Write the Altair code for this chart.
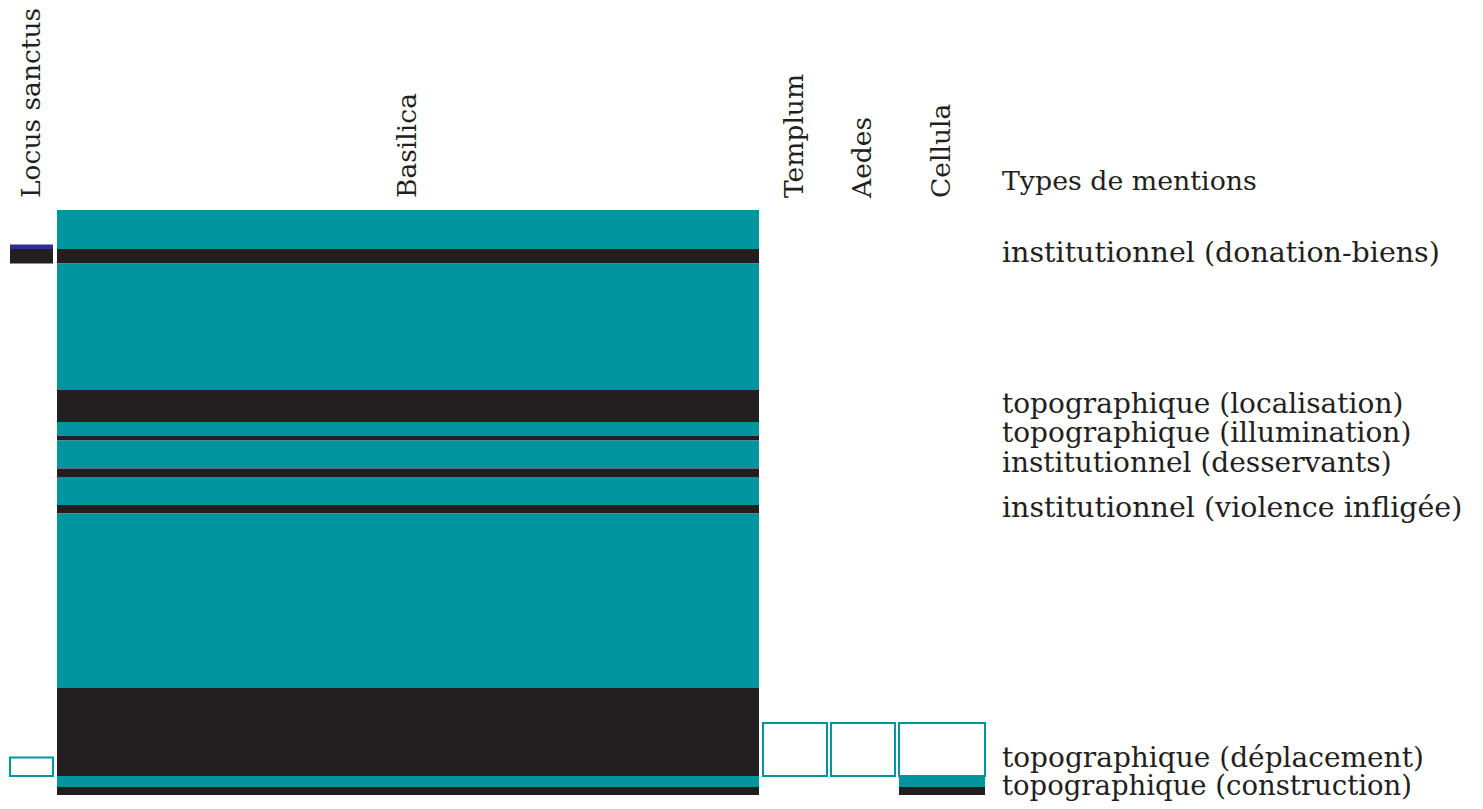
import altair as alt
import pandas as pd

# Columns (lieux de culte) and their relative widths
columns = ["Locus sanctus", "Basilica", "Templum", "Aedes", "Cellula"]
col_widths = [43, 702, 64, 64, 86]
col_gap = 4
col_start = 2  # left offset

# Segments: column, top, bottom (in chart units from top), kind
seg_column = ["Basilica"] * 14 + ["Locus sanctus"] * 3 + ["Templum", "Aedes"] + ["Cellula"] * 3
seg_top = [202, 241, 255.5, 382, 414, 428, 432.5, 460.5, 469, 497, 505.5, 680, 768, 779,
           236.5, 241, 749.5,
           715, 715,
           715, 768, 779]
seg_bottom = [241, 255.5, 382, 414, 428, 432.5, 460.5, 469, 497, 505.5, 680, 768, 779, 787,
              241, 255.5, 768,
              768, 768,
              768, 779, 787]
seg_kind = ["teal", "black", "teal", "black", "teal", "black", "teal", "black", "teal", "black",
            "teal", "black", "teal", "black",
            "blue", "black", "outline",
            "outline", "outline",
            "outline", "teal", "black"]

# Row labels (types de mentions) and their vertical positions
row_labels = ["Types de mentions", "institutionnel (donation-biens)", "topographique (localisation)",
              "topographique (illumination)", "institutionnel (desservants)",
              "institutionnel (violence infligée)", "topographique (déplacement)",
              "topographique (construction)"]
row_label_y = [174, 245, 397, 426, 456, 500, 751, 779]
row_label_size = [26.8, 28.5, 28, 28, 28, 28.5, 28, 27.5]
label_x = 994

W, H = 1467, 793

# column positions
x0 = {}
pos = col_start
for c, w in zip(columns, col_widths):
    x0[c] = (pos, pos + w)
    pos += w + col_gap

seg = pd.DataFrame({"col": seg_column, "top": seg_top, "bottom": seg_bottom, "kind": seg_kind})
seg["x"] = [x0[c][0] for c in seg["col"]]
seg["x2"] = [x0[c][1] for c in seg["col"]]

xs = alt.Scale(domain=[0, W], range=[0, W], nice=False, zero=False)
ys = alt.Scale(domain=[0, H], range=[0, H], nice=False, zero=False)

color_scale = alt.Scale(domain=["teal", "black", "blue"], range=["#00959e", "#231f20", "#2e3192"])

filled = alt.Chart(seg).transform_filter(alt.datum.kind != "outline").mark_rect(stroke=None).encode(
    x=alt.X("x:Q", scale=xs, axis=None),
    x2="x2:Q",
    y=alt.Y("top:Q", scale=ys, axis=None),
    y2="bottom:Q",
    color=alt.Color("kind:N", scale=color_scale, legend=None),
)

outlined = alt.Chart(seg).transform_filter(alt.datum.kind == "outline").mark_rect(
    fill="white", stroke="#00959e", strokeWidth=2
).encode(
    x=alt.X("x:Q", scale=xs, axis=None),
    x2="x2:Q",
    y=alt.Y("top:Q", scale=ys, axis=None),
    y2="bottom:Q",
)

hdr = pd.DataFrame({"col": columns})
hdr["cx"] = [(x0[c][0] + x0[c][1]) / 2 for c in columns]
hdr["cy"] = 190

headers = alt.Chart(hdr).mark_text(
    angle=270, align="left", baseline="middle", font="DejaVu Serif", fontSize=26.5, color="#231f20"
).encode(
    x=alt.X("cx:Q", scale=xs, axis=None),
    y=alt.Y("cy:Q", scale=ys, axis=None),
    text="col:N",
)

lab = pd.DataFrame({"label": row_labels, "y": row_label_y, "fs": row_label_size})
lab["x"] = label_x
labels = alt.Chart(lab).mark_text(
    align="left", baseline="middle", font="DejaVu Serif", color="#231f20"
).encode(
    x=alt.X("x:Q", scale=xs, axis=None),
    y=alt.Y("y:Q", scale=ys, axis=None),
    text="label:N",
    size=alt.Size("fs:Q", scale=None, legend=None),
)

chart = alt.layer(filled, outlined, headers, labels).properties(
    width=W, height=H, padding=0,
    autosize=alt.AutoSizeParams(type="none"),
).configure_view(stroke=None)

chart.save("out.html", embed_options={"renderer": "svg", "actions": False})
